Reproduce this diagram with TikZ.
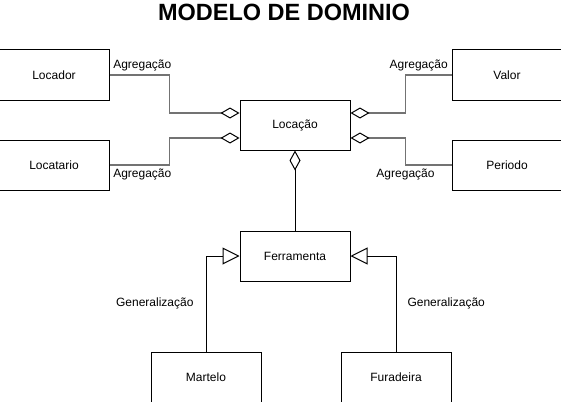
\documentclass[tikz,border=0pt]{standalone}
\usepackage{fontspec}
\setmainfont{Liberation Sans}
\usetikzlibrary{arrows.meta,positioning}

\begin{document}
\begin{tikzpicture}[x=1pt, y=-1pt, line width=1pt,
  cls/.style={draw, minimum width=110pt, minimum height=50pt, inner sep=0pt, font=\fontsize{12}{14}\selectfont},
  lbl/.style={font=\fontsize{12}{14}\selectfont, inner sep=3pt},
  agg/.style={draw=black!55, line width=1.6pt, -{Diamond[open, length=19pt, width=11pt, color=black, line width=1pt]}},
  gen/.style={-{Triangle[open, length=17pt, width=17pt]}}]
\useasboundingbox (0,0) rectangle (561,401);
\node[anchor=base, font=\bfseries\fontsize{23.5}{28}\selectfont] (title) at (284,21) {MODELO DE DOMINIO};
\node[cls] (loc) at (295,125) {Locação};
\node[cls, left=130pt of loc, yshift=50pt] (locador) {Locador};
\node[cls, left=130pt of loc, yshift=-40pt] (locatario) {Locatario};
\node[cls, right=101pt of loc, yshift=50pt] (valor) {Valor};
\node[cls, right=101pt of loc, yshift=-40pt] (periodo) {Periodo};
\node[cls, below=80pt of loc] (ferr) {Ferramenta};
\node[cls, below=70pt of ferr, xshift=-89pt] (martelo) {Martelo};
\node[cls, below=70pt of ferr, xshift=101pt] (furad) {Furadeira};
% agregacoes
\draw[agg] (locador.east) node[lbl, above right] {Agregação} -- ++(60,0) |- ([yshift=12pt]loc.west);
\draw[agg] (locatario.east) node[lbl, below right] {Agregação} -- ++(60,0) |- ([yshift=-13pt]loc.west);
\draw[agg] (valor.west) node[lbl, above left] {Agregação} -- ++(-46,0) |- ([yshift=12pt]loc.east);
\draw[agg] (periodo.west) -- ++(-46,0) node[lbl, below] {Agregação} |- ([yshift=-13pt]loc.east);
\draw[-{Diamond[open, length=20pt, width=11pt]}] (ferr.north) -- (loc.south);
% generalizacoes
\draw[gen] (martelo.north) |- (ferr.west) node[lbl, pos=0.25, left, xshift=-9pt] {Generalização};
\draw[gen] (furad.north) |- (ferr.east) node[lbl, pos=0.25, right, xshift=8pt] {Generalização};
\end{tikzpicture}
\end{document}
